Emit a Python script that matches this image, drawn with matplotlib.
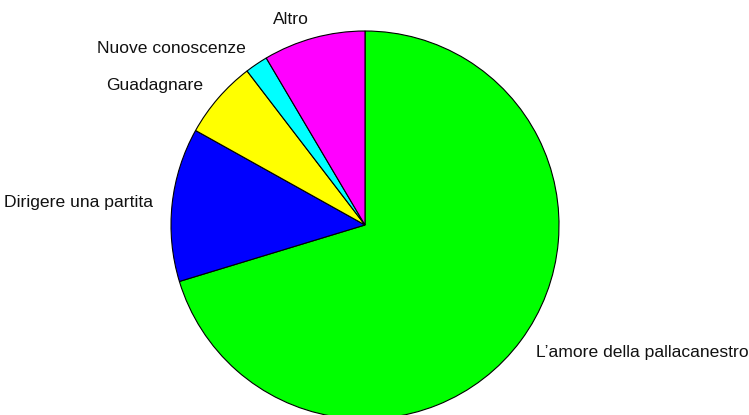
import matplotlib
matplotlib.use('Agg')
import matplotlib.pyplot as plt

plt.rcParams['font.family'] = ['Liberation Sans', 'DejaVu Sans']

# dati del grafico a torta
etichette = ["L\u2019amore della pallacanestro", "Dirigere una partita",
             "Guadagnare", "Nuove conoscenze", "Altro"]
valori = [70.3, 12.8, 6.5, 1.9, 8.5]
colori = ['#00ff00', '#0000ff', '#ffff00', '#00ffff', '#ff00ff']

fig = plt.figure(figsize=(7.49, 4.15), dpi=100)
ax = fig.add_axes([0, 0, 1, 1])

# centro in (0, 0): l'allineamento delle etichette dipende dal segno di x
ax.pie(valori, labels=etichette, colors=colori, startangle=90,
       counterclock=False, radius=194, labeldistance=1.1,
       wedgeprops={'edgecolor': 'black', 'linewidth': 0.8},
       textprops={'fontsize': 12.6, 'color': '#111111'})

# posizione della torta in pixel: centro a (365, 225) dall'alto
ax.set_xlim(-365, 749 - 365)
ax.set_ylim(-(415 - 225), 225)
ax.set_aspect('equal')
ax.axis('off')

fig.savefig('out.png', dpi=100)
